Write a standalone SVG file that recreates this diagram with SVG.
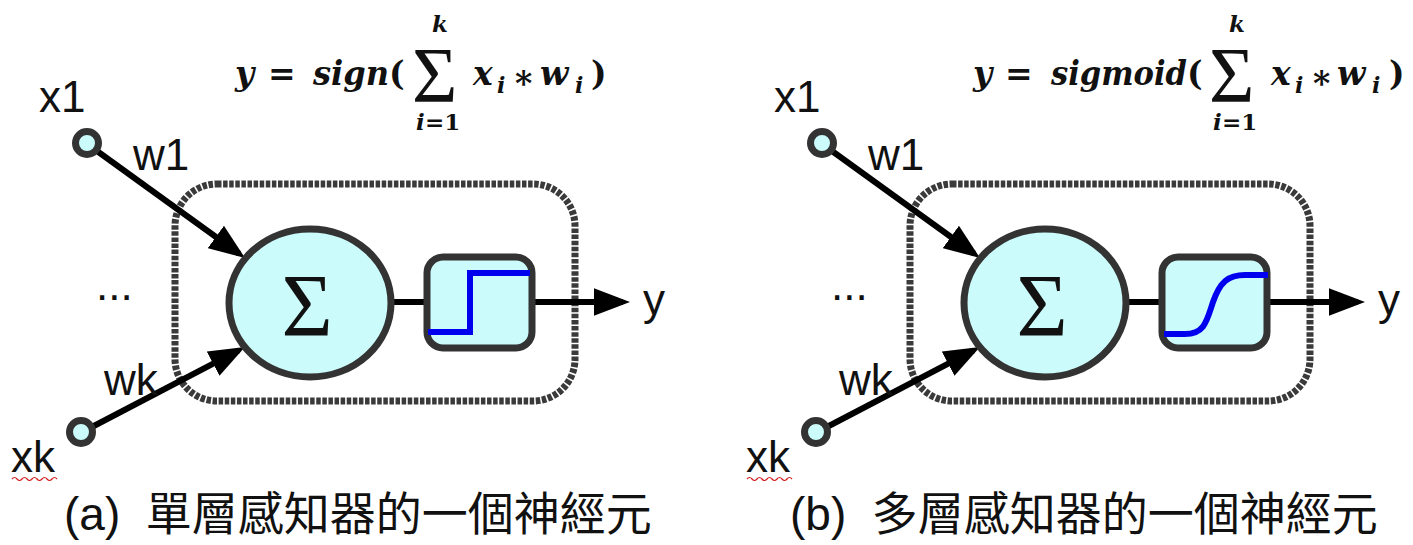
<svg xmlns="http://www.w3.org/2000/svg" width="1413" height="545" viewBox="0 0 1413 545">
<style>
.lbl{font-family:"Liberation Sans",Arial,sans-serif;font-size:44px;fill:#111}
.cap{font-family:"Liberation Sans","Noto Sans CJK TC",sans-serif;font-size:46px;fill:#111;white-space:pre}
.f{font-family:"DejaVu Serif","Liberation Serif",serif;font-style:italic;font-weight:bold;font-size:33px;fill:#111}
.up{font-style:normal}
.sub{font-size:22px}
.lim{font-size:23px}
.sig{font-family:"Liberation Serif","DejaVu Serif",serif;font-style:normal;font-weight:normal;font-size:78px}
.bigsig{font-family:"Liberation Serif","DejaVu Serif",serif;font-size:88px;fill:#111;text-anchor:middle}
.inp{fill:#ccfbfb;stroke:#333;stroke-width:7}
.sum{fill:#ccfbfb;stroke:#333;stroke-width:7}
.act{fill:#ccfbfb;stroke:#333;stroke-width:7}
.frame{fill:none;stroke:#3a3a3a;stroke-width:7;stroke-dasharray:4.5 1.6}
.edge{fill:none;stroke:#000;stroke-width:6}
.curve{fill:none;stroke:#0000ee;stroke-width:6}
.squig{fill:none;stroke:#d02020;stroke-width:1.2}
</style>
<defs>
<marker id="ah" markerUnits="strokeWidth" markerWidth="6" markerHeight="4.6" refX="4.8" refY="2.3" orient="auto">
<path d="M0,0 L6,2.3 L0,4.6 z" fill="#000"/>
</marker>
</defs>

<!-- Panel (a) -->
<g id="panel-a">
  <g id="a-frame"><rect class="frame" x="175" y="184" width="400" height="217" rx="42" ry="42"/></g>
  <g id="a-connectors">
    <line class="edge" x1="97" y1="151" x2="239.2" y2="253.8" marker-end="url(#ah)"/>
    <line class="edge" x1="90" y1="428" x2="238.6" y2="350.3" marker-end="url(#ah)"/>
    <line class="edge" x1="392" y1="302" x2="427" y2="302"/>
    <line class="edge" x1="532" y1="302" x2="622.8" y2="302" marker-end="url(#ah)"/>
  </g>
  <g id="a-x1"><circle class="inp" cx="87" cy="143" r="11.5"/><text class="lbl" x="39" y="112">x1</text></g>
  <g id="a-xk"><circle class="inp" cx="81" cy="432" r="11.5"/><text class="lbl" x="11" y="472">xk</text>
    <path class="squig" d="M12,479 q2.5,-3 5,0 t5,0 t5,0 t5,0 t5,0 t5,0 t5,0 t5,0 t5,0"/></g>
  <g id="a-w1"><text class="lbl" x="133" y="170">w1</text></g>
  <g id="a-wk"><text class="lbl" x="104" y="395">wk</text></g>
  <g id="a-dots"><text class="lbl" x="96" y="300">...</text></g>
  <g id="a-sum"><ellipse class="sum" cx="310" cy="303" rx="81" ry="74"/><text class="bigsig" x="307" y="335">Σ</text></g>
  <g id="a-act"><rect class="act" x="427" y="257" width="105" height="91" rx="16" ry="16"/>
    <path class="curve" d="M428,332 L470,332 L470,273 L530,273"/></g>
  <g id="a-y"><text class="lbl" x="643" y="315">y</text></g>
  <g id="a-formula">
    <text class="f"><tspan x="235" y="85">y</tspan><tspan class="up" x="268" y="85">=</tspan><tspan x="313" y="85" textLength="76" lengthAdjust="spacingAndGlyphs">sign</tspan><tspan class="up" x="389" y="85">(</tspan><tspan class="sig" x="412" y="101">Σ</tspan><tspan class="lim" x="432" y="32">k</tspan><tspan class="lim" x="416" y="130">i</tspan><tspan class="lim up" x="425" y="130">=1</tspan><tspan x="473" y="85">x</tspan><tspan class="sub" x="497" y="93">i</tspan><tspan class="up" x="515" y="95">*</tspan><tspan x="540" y="85">w</tspan><tspan class="sub" x="575" y="93">i</tspan><tspan class="up" x="591" y="85">)</tspan></text>
  </g>
  <g id="a-caption"><text class="cap" x="64" y="530">(a)  單層感知器的一個神經元</text></g>
</g>

<!-- Panel (b) -->
<g id="panel-b">
  <g id="b-frame"><rect class="frame" x="910" y="184" width="400" height="217" rx="42" ry="42"/></g>
  <g id="b-connectors">
    <line class="edge" x1="832" y1="151" x2="974.2" y2="253.8" marker-end="url(#ah)"/>
    <line class="edge" x1="825" y1="428" x2="973.6" y2="350.3" marker-end="url(#ah)"/>
    <line class="edge" x1="1127" y1="302" x2="1162" y2="302"/>
    <line class="edge" x1="1267" y1="302" x2="1357.8" y2="302" marker-end="url(#ah)"/>
  </g>
  <g id="b-x1"><circle class="inp" cx="822" cy="143" r="11.5"/><text class="lbl" x="774" y="112">x1</text></g>
  <g id="b-xk"><circle class="inp" cx="816" cy="432" r="11.5"/><text class="lbl" x="746" y="472">xk</text>
    <path class="squig" d="M747,479 q2.5,-3 5,0 t5,0 t5,0 t5,0 t5,0 t5,0 t5,0 t5,0 t5,0"/></g>
  <g id="b-w1"><text class="lbl" x="868" y="170">w1</text></g>
  <g id="b-wk"><text class="lbl" x="839" y="395">wk</text></g>
  <g id="b-dots"><text class="lbl" x="831" y="300">...</text></g>
  <g id="b-sum"><ellipse class="sum" cx="1045" cy="303" rx="81" ry="74"/><text class="bigsig" x="1042" y="335">Σ</text></g>
  <g id="b-act"><rect class="act" x="1162" y="257" width="105" height="91" rx="16" ry="16"/>
    <path class="curve" d="M1164,334 L1185,334 C1205,334 1207,320 1213,302 C1220,282 1228,275 1245,275 L1268,275"/></g>
  <g id="b-y"><text class="lbl" x="1378" y="315">y</text></g>
  <g id="b-formula">
    <text class="f"><tspan x="973" y="85">y</tspan><tspan class="up" x="1005" y="85">=</tspan><tspan x="1051" y="85" textLength="136" lengthAdjust="spacingAndGlyphs">sigmoid</tspan><tspan class="up" x="1187" y="85">(</tspan><tspan class="sig" x="1209" y="101">Σ</tspan><tspan class="lim" x="1229" y="32">k</tspan><tspan class="lim" x="1213" y="130">i</tspan><tspan class="lim up" x="1222" y="130">=1</tspan><tspan x="1271" y="85">x</tspan><tspan class="sub" x="1295" y="93">i</tspan><tspan class="up" x="1313" y="95">*</tspan><tspan x="1337" y="85">w</tspan><tspan class="sub" x="1372" y="93">i</tspan><tspan class="up" x="1389" y="85">)</tspan></text>
  </g>
  <g id="b-caption"><text class="cap" x="790" y="530">(b)  多層感知器的一個神經元</text></g>
</g>
</svg>
